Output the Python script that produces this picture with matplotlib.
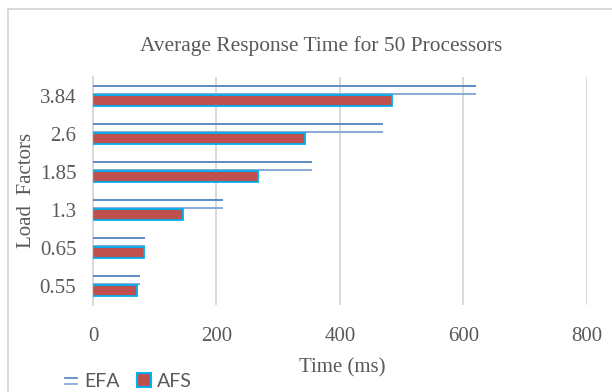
import numpy as np
import matplotlib
matplotlib.use("Agg")
import matplotlib.pyplot as plt
from matplotlib.lines import Line2D
from matplotlib.patches import Rectangle
from matplotlib.legend_handler import HandlerBase

load_factors = ["0.55", "0.65", "1.3", "1.85", "2.6", "3.84"]
efa_time = [76, 85, 210, 355, 470, 620]
afs_time = [72, 82, 146, 267, 344, 484]

EFA_BLUE = "#4F81BD"
EFA_LIGHT = "#7FA3D3"
AFS_RED = "#C0504D"
AFS_EDGE = "#00B0F0"
GRID = "#D9D9D9"
TEXT = "#595959"
SERIF = "Liberation Serif"


class DoubleLineHandler(HandlerBase):
    # legend glyph for EFA: two short stacked strokes
    def create_artists(self, legend, orig, xdescent, ydescent, width, height, fontsize, trans):
        x0, x1 = -xdescent + width * 0.1, -xdescent + width * 0.9
        top = Line2D([x0, x1], [-ydescent + height * 0.62] * 2, color=EFA_BLUE, lw=1.2, transform=trans)
        bot = Line2D([x0, x1], [-ydescent + height * 0.22] * 2, color=EFA_LIGHT, lw=1.2, transform=trans)
        return [top, bot]


fig = plt.figure(figsize=(6.12, 3.92), dpi=100)
ax = fig.add_axes([0.152, 0.222, 0.807, 0.582])

y = np.arange(len(load_factors))

# EFA drawn as an open bar: just its upper and lower edges
ax.hlines(y + 0.27, 0, efa_time, color=EFA_BLUE, lw=1.3, zorder=3)
ax.hlines(y + 0.06, 0, efa_time, color=EFA_LIGHT, lw=1.3, zorder=3)
ax.barh(y - 0.12, afs_time, height=0.27, color=AFS_RED, edgecolor=AFS_EDGE,
        linewidth=1.3, zorder=3)

ax.set_xlim(0, 800)
ax.set_ylim(-0.5, len(load_factors) - 0.5)
ax.set_xticks([0, 200, 400, 600, 800])
ax.set_yticks(y)
ax.set_yticklabels(load_factors)
ax.xaxis.grid(True, color=GRID, lw=1.4, zorder=0)
ax.set_axisbelow(True)
for side in ["top", "right", "bottom"]:
    ax.spines[side].set_visible(False)
ax.spines["left"].set_color(GRID)
ax.spines["left"].set_linewidth(1.4)
ax.tick_params(length=0, labelsize=15, labelcolor=TEXT)
ax.tick_params(axis="x", pad=15.5)
ax.tick_params(axis="y", pad=12)
for lab in ax.get_xticklabels() + ax.get_yticklabels():
    lab.set_family(SERIF)

fig.text(0.5245, 0.883, "Average Response Time for 50 Processors", ha="center", va="center",
         family=SERIF, fontsize=15.4, color=TEXT)
fig.text(0.559, 0.061, "Time (ms)", ha="center", va="center", family=SERIF,
         fontsize=15, color=TEXT)
fig.text(0.0425, 0.515, "Load  Factors", ha="center", va="center", rotation=90,
         family=SERIF, fontsize=15, color=TEXT)

# chart area frame
fig.patches.append(Rectangle((8 / 612, -0.1), 1.2, 1 - 9 / 392 + 0.1, transform=fig.transFigure,
                             fill=False, edgecolor=GRID, lw=1.4))

efa_handle = Line2D([], [])
afs_handle = Rectangle((0, 0), 1, 1, facecolor=AFS_RED, edgecolor=AFS_EDGE, lw=1.5)
fig.legend([efa_handle, afs_handle], ["EFA", "AFS"], handler_map={efa_handle: DoubleLineHandler()},
           loc="center left", bbox_to_anchor=(0.075, 0.028), ncol=2, frameon=False,
           prop={"family": "Lato", "size": 14}, labelcolor=TEXT,
           handlelength=0.75, handleheight=0.75, handletextpad=0.3, columnspacing=0.9)

fig.savefig("out.png", dpi=100)
